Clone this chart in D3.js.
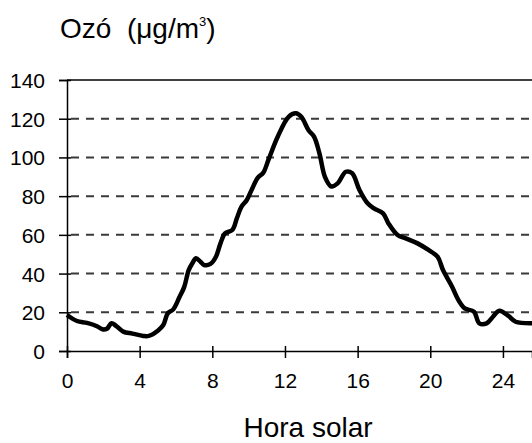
<!DOCTYPE html>
<html>
<head>
<meta charset="utf-8">
<script src="https://cdn.jsdelivr.net/npm/d3@7"></script>
<style>
  body { margin: 0; background: #fff; }
  .tick text { font-family: "Liberation Sans", Arial, sans-serif; font-size: 21px; fill: #000; }
</style>
</head>
<body>
<div id="chart"></div>
<script>
// hora solar / ozó (µg/m3)
const hours = [0, 0.55, 1.1, 1.65, 1.95, 2.2, 2.45, 2.7, 3.1, 3.6, 4.2, 4.5, 5.0, 5.3, 5.55, 5.85,
  6.2, 6.45, 6.7, 6.9, 7.1, 7.35, 7.55, 7.9, 8.2, 8.45, 8.7, 9.1, 9.35, 9.6, 9.9, 10.2, 10.5, 10.8,
  11.1, 11.6, 12.2, 12.6, 12.9, 13.3, 13.6, 13.9, 14.2, 14.55, 14.9, 15.35, 15.7, 16.1, 16.55, 16.9,
  17.4, 17.7, 18.2, 18.65, 19.3, 19.9, 20.4, 20.7, 21.2, 21.55, 21.9, 22.4, 22.7, 23.1, 23.45, 23.8,
  24.3, 24.7, 25.6]
const ozone = [18.6, 15.5, 14.5, 12.8, 11.2, 11.5, 14.3, 13, 10, 9, 7.8, 7.8, 10.5, 13.4, 19.5, 21.5,
  28, 33, 41.8, 45.3, 47.9, 46.1, 44.4, 45, 48.7, 55.6, 60.8, 62.5, 68.5, 74.5, 78, 84, 89.5, 92,
  99, 110.7, 121, 122.8, 121, 114, 110.7, 102, 90, 85, 86.6, 92.6, 91.8, 83.2, 76.3, 73.7,
  71.1, 65.9, 59.9, 58.2, 55.6, 52.2, 48.7, 41.8, 33.2, 26.3, 22, 20.3, 14.3, 14.3, 17.7, 20.8,
  18.1, 15.1, 14.3]
const xTicks = [0, 4, 8, 12, 16, 20, 24]
const yTicks = [0, 20, 40, 60, 80, 100, 120, 140]
const gridTicks = [20, 40, 60, 80, 100, 120]

const width = 532, height = 443

let svg = d3.select("#chart").append("svg")
  .attr("width", width)
  .attr("height", height)

let x = d3.scaleLinear().domain([0, 25.6]).range([67, 532])
let y = d3.scaleLinear().domain([0, 140]).range([351, 80])

// dashed grid
svg.append("g")
  .selectAll("line")
  .data(gridTicks)
  .join("line")
  .attr("x1", x(0))
  .attr("x2", width)
  .attr("y1", d => y(d))
  .attr("y2", d => y(d))
  .attr("stroke", "#3a3a3a")
  .attr("stroke-width", 2)
  .attr("stroke-dasharray", "8,7")
  .attr("stroke-dashoffset", -4)

// top frame line
svg.append("line")
  .attr("x1", x(0)).attr("x2", width)
  .attr("y1", y(140)).attr("y2", y(140))
  .attr("stroke", "#000").attr("stroke-width", 1.5)

let yAxis = svg.append("g")
  .attr("transform", `translate(${x(0)},0)`)
  .call(d3.axisLeft(y).tickValues(yTicks).tickSize(8).tickPadding(14))
yAxis.select(".domain").attr("stroke-width", 1.5)
yAxis.selectAll(".tick line").attr("x2", -8).attr("x1", 4).attr("stroke-width", 1.5)
yAxis.selectAll(".tick text").attr("dy", "0.36em")

let xAxis = svg.append("g")
  .attr("transform", `translate(0,${y(0)})`)
  .call(d3.axisBottom(x).tickValues(xTicks).tickSize(7).tickPadding(15))
xAxis.select(".domain").attr("stroke-width", 1.5)
xAxis.selectAll(".tick line").attr("y1", -5).attr("stroke-width", 1.5)

// ozone curve
let line = d3.line()
  .x((d, i) => x(hours[i]))
  .y(d => y(d))
  .curve(d3.curveCatmullRom)

svg.append("path")
  .datum(ozone)
  .attr("d", line)
  .attr("fill", "none")
  .attr("stroke", "#000")
  .attr("stroke-width", 4.5)
  .attr("stroke-linejoin", "round")

// titles
let title = svg.append("text")
  .attr("x", 60)
  .attr("y", 38)
  .style("white-space", "pre")
  .style("font-family", "Liberation Sans, Arial, sans-serif")
  .style("font-size", "28px")
title.append("tspan").text("Ozó  (μg/m")
title.append("tspan").text("3").attr("dy", -12).style("font-size", "13px")
title.append("tspan").text(")").attr("dy", 12)

svg.append("text")
  .attr("x", 308)
  .attr("y", 437)
  .attr("text-anchor", "middle")
  .style("font-family", "Liberation Sans, Arial, sans-serif")
  .style("font-size", "28px")
  .text("Hora solar")
</script>
</body>
</html>
